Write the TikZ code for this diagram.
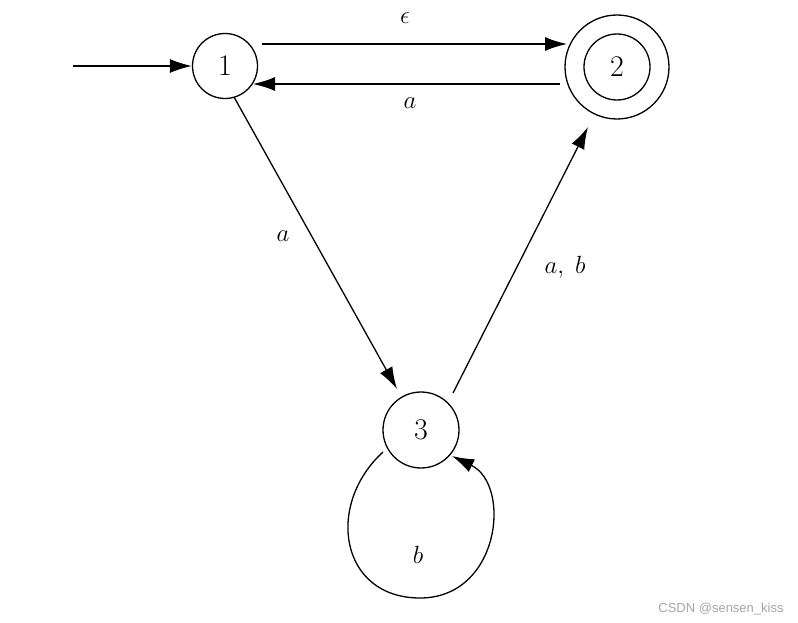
\documentclass[tikz,border=0pt]{standalone}
\usepackage{fontspec}
\newfontfamily\wmfont{Liberation Sans}
\usetikzlibrary{arrows.meta,calc}
\tikzset{
  st/.style={circle,draw,line width=1.3pt,inner sep=0pt},
  tr/.style={line width=1.3pt,-{Latex[length=22pt,width=14pt]}},
  lbl/.style={inner sep=0pt}
}
\begin{document}
\begin{tikzpicture}[x=1pt,y=-1pt,font=\fontsize{30}{36}\selectfont]
\useasboundingbox (0,0) rectangle (798,623);
\node[st,minimum size=65pt] (n1) at (225,66) {1};
\node[st,minimum size=104pt] (n2) at (617,67) {2};
\draw[line width=1.3pt] (n2.center) circle (33pt);
\node[st,minimum size=76pt] (n3) at (421,430) {3};
\coordinate (init) at (73,66);
\draw[tr] (init) -- (n1.west);
\draw[tr] ($(n1.center)+(37,-22)$) -- ($(n2.center)+(-50,-23)$);
\draw[tr] ($(n2.center)+(-57,17)$) -- ($(n1.center)+(28,18)$);
\draw[tr] ($(n1.center)+(9,31)$) -- ($(n3.center)+(-24,-41)$);
\draw[tr] ($(n3.center)+(32,-37)$) -- ($(n2.center)+(-29,60)$);
\draw[tr] ($(n3.center)+(-38,22)$) .. controls (325,505) and (340,598) .. (420,598)
  .. controls (500,598) and (512,485) .. ($(n3.center)+(31,26)$);
\node[lbl] (le) at (405,18) {$\epsilon$};
\node[lbl] (la1) at (410,103) {$a$};
\node[lbl] (la2) at (283,236) {$a$};
\node[lbl] (lab) at (565,267) {$a,\;b$};
\node[lbl] (lb) at (418,555) {$b$};
\node[lbl,text=black!35,font=\wmfont\fontsize{13}{15}\selectfont] (wm) at (721,609) {CSDN @sensen\_kiss};
\end{tikzpicture}
\end{document}
